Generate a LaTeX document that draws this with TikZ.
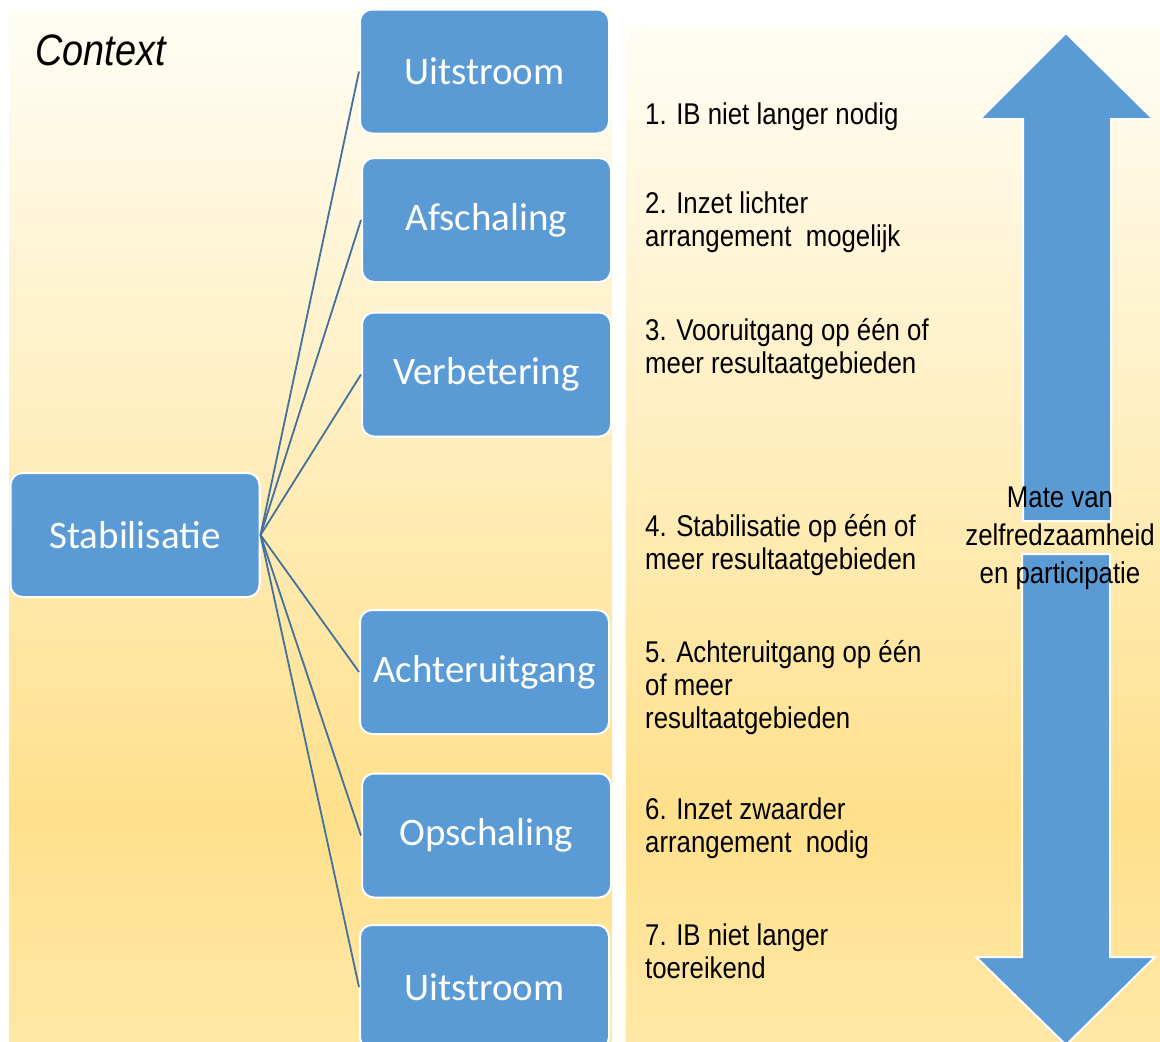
\documentclass[tikz,border=0pt]{standalone}
\usepackage{fontspec}
\setmainfont{Carlito}
\newfontfamily\narrowfont[FakeStretch=0.86]{Liberation Sans}
\definecolor{boxblue}{HTML}{5B9BD5}
\definecolor{linkblue}{HTML}{41719C}
\definecolor{bgtop}{HTML}{FFFDF5}
\definecolor{bgmid}{HTML}{FFE08C}
\definecolor{bgbot}{HTML}{FFE8A6}
\pgfdeclareverticalshading{panelshade}{100bp}{color(0bp)=(bgbot); color(25bp)=(bgbot); color(36bp)=(bgmid); color(75bp)=(bgtop); color(100bp)=(bgtop)}
\begin{document}
\begin{tikzpicture}[x=1pt,y=-1pt,
  box/.style={draw=white, line width=2pt, fill=boxblue, rounded corners=12pt,
    minimum width=249pt, minimum height=124pt, inner sep=0pt, text=white,
    font=\fontsize{39}{44}\selectfont},
  link/.style={draw=linkblue, line width=1.8pt},
  item/.style={anchor=base west, inner sep=0pt, align=left,
    font=\narrowfont\fontsize{30}{33}\selectfont},
  arrowpart/.style={fill=boxblue, draw=white, line width=2pt, line join=miter}]
\useasboundingbox (0,0) rectangle (1160,1042);
\clip (0,0) rectangle (1160,1042);
\fill[white] (0,0) rectangle (1160,1042);
\shade[shading=panelshade] (9,9) rectangle (612,1042);
\shade[shading=panelshade] (626,25) rectangle (1160,1042);
% arrow
\filldraw[arrowpart] (1066,33) -- (1153,119) -- (1111,119) -- (1111,521) -- (1023,521) -- (1023,119) -- (980,119) -- cycle;
\filldraw[arrowpart] (1022,554) -- (1110,554) -- (1110,957) -- (1155,957) -- (1066,1045) -- (976,957) -- (1022,957) -- cycle;
% boxes
\node[box] (stab) at (135,535) {Stabilisatie};
\node[box] (u1) at (484.5,71.5) {Uitstroom};
\node[box] (af) at (486.5,220) {Afschaling};
\node[box] (vb) at (486.5,374.5) {Verbetering};
\node[box] (ach) at (484.5,672) {Achteruitgang};
\node[box] (op) at (486.5,835.5) {Opschaling};
\node[box] (u2) at (484.5,987) {Uitstroom};
% connectors
\foreach \t in {u1,af,vb,ach,op,u2} \draw[link] (stab.east) -- (\t.west);
% context
\node[anchor=base west, inner sep=0pt, font=\narrowfont\itshape\fontsize{44}{50}\selectfont] (ctx) at (35,65) {Context};
% items (anchor base = baseline of the last line)
\node[item] (t1) at (645,124) {1. IB niet langer nodig};
\node[item] (t2) at (645,246) {2. Inzet lichter\\arrangement\ \ mogelijk};
\node[item] (t3) at (645,373) {3. Vooruitgang op één of\\meer resultaatgebieden};
\node[item] (t4) at (645,569) {4. Stabilisatie op één of\\meer resultaatgebieden};
\node[item] (t5) at (645,728) {5. Achteruitgang op één\\of meer\\resultaatgebieden};
\node[item] (t6) at (645,852) {6. Inzet zwaarder\\arrangement\ \ nodig};
\node[item] (t7) at (645,978) {7. IB niet langer\\toereikend};
\node[anchor=base, inner sep=0pt, align=center, font=\narrowfont\fontsize{30}{38}\selectfont] (mate) at (1060,583) {Mate van\\zelfredzaamheid\\en participatie};
\end{tikzpicture}
\end{document}
